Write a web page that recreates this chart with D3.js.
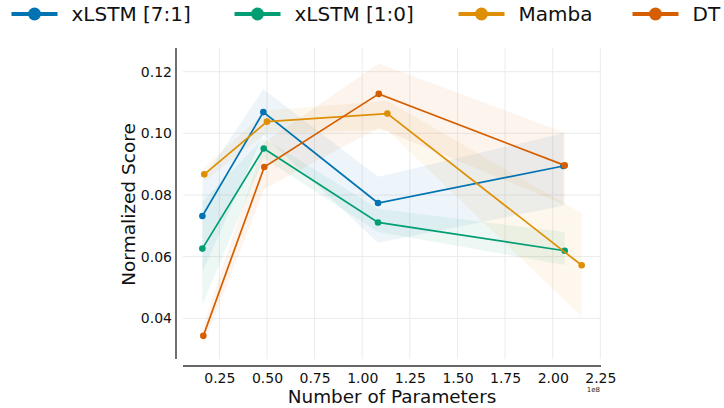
<!DOCTYPE html>
<html>
<head>
<meta charset="utf-8">
<script src="https://cdn.jsdelivr.net/npm/d3@7"></script>
<style>
  html, body { margin: 0; padding: 0; background: #fff; }
  svg { display: block; font-family: "DejaVu Sans", sans-serif; }
</style>
</head>
<body>
<svg id="chart" width="724" height="408"></svg>
<script>
// Model labels, in legend order
const seriesNames = ["xLSTM [7:1]", "xLSTM [1:0]", "Mamba", "DT"];
const seriesColors = ["#0173b2", "#029e73", "#de8f05", "#d55e00"];

// Parameter counts per model size
const paramsXlstm71 = [16.1e6, 48.1e6, 108.3e6, 205.6e6];
const paramsXlstm10 = [16.1e6, 48.3e6, 108.3e6, 206.3e6];
const paramsMamba   = [17.1e6, 50.0e6, 113.2e6, 215.2e6];
const paramsDT      = [16.6e6, 48.6e6, 108.7e6, 206.3e6];

// Mean normalized score per size
const scoreXlstm71 = [0.0732, 0.1069, 0.0774, 0.0894];
const scoreXlstm10 = [0.0626, 0.0951, 0.0711, 0.0619];
const scoreMamba   = [0.0867, 0.1038, 0.1064, 0.0572];
const scoreDT      = [0.0343, 0.0891, 0.1128, 0.0896];

// Confidence interval bounds
const lowXlstm71  = [0.0550, 0.0995, 0.0645, 0.0765];
const highXlstm71 = [0.0849, 0.1143, 0.0859, 0.1000];
const lowXlstm10  = [0.0443, 0.0920, 0.0680, 0.0573];
const highXlstm10 = [0.0780, 0.0985, 0.0755, 0.0680];
const lowMamba    = [0.0845, 0.1003, 0.1010, 0.0405];
const highMamba   = [0.0890, 0.1075, 0.1105, 0.0741];
const lowDT       = [0.0313, 0.0820, 0.1017, 0.0768];
const highDT      = [0.0375, 0.0970, 0.1227, 0.1002];

// Axis ticks
const xTicks = [0.25e8, 0.50e8, 0.75e8, 1.00e8, 1.25e8, 1.50e8, 1.75e8, 2.00e8, 2.25e8];
const yTicks = [0.04, 0.06, 0.08, 0.10, 0.12];

const seriesParams = [paramsXlstm71, paramsXlstm10, paramsMamba, paramsDT];
const seriesScores = [scoreXlstm71, scoreXlstm10, scoreMamba, scoreDT];
const seriesLow = [lowXlstm71, lowXlstm10, lowMamba, lowDT];
const seriesHigh = [highXlstm71, highXlstm10, highMamba, highDT];

const series = seriesNames.map((name, i) => ({
  name,
  color: seriesColors[i],
  points: seriesParams[i].map((p, j) => ({
    x: p, y: seriesScores[i][j], lo: seriesLow[i][j], hi: seriesHigh[i][j]
  }))
}));

const svg = d3.select("#chart");
const plot = { left: 183, right: 601, top: 48, bottom: 359 };

const x = d3.scaleLinear().domain([0.0593e8, 2.2535e8]).range([plot.left, plot.right]);
const y = d3.scaleLinear().domain([0.02679, 0.12769]).range([plot.bottom, plot.top]);

// Grid
const grid = svg.append("g").attr("stroke", "#ebebeb").attr("stroke-width", 1);
grid.selectAll(".vx").data(xTicks).join("line")
  .attr("x1", d => x(d)).attr("x2", d => x(d))
  .attr("y1", plot.top).attr("y2", plot.bottom);
grid.selectAll(".hy").data(yTicks).join("line")
  .attr("x1", plot.left).attr("x2", plot.right)
  .attr("y1", d => y(d)).attr("y2", d => y(d));

// Confidence bands
const area = d3.area().x(d => x(d.x)).y0(d => y(d.lo)).y1(d => y(d.hi));
svg.append("g").selectAll("path").data(series).join("path")
  .attr("d", s => area(s.points))
  .attr("fill", s => s.color)
  .attr("fill-opacity", 0.07)
  .attr("stroke", "none");

// Lines and markers
const line = d3.line().x(d => x(d.x)).y(d => y(d.y));
const sg = svg.append("g").selectAll("g").data(series).join("g");
sg.append("path")
  .attr("d", s => line(s.points))
  .attr("fill", "none")
  .attr("stroke", s => s.color)
  .attr("stroke-width", 1.7);
sg.selectAll("circle").data(s => s.points.map(p => ({ ...p, color: s.color }))).join("circle")
  .attr("cx", d => x(d.x)).attr("cy", d => y(d.y)).attr("r", 3.3)
  .attr("fill", d => d.color);

// Axes (offset spines, no tick marks)
const xAxis = d3.axisBottom(x).tickValues(xTicks).tickSize(0).tickPadding(7)
  .tickFormat(d => (d / 1e8).toFixed(2));
const gx = svg.append("g").attr("transform", "translate(0,366)").call(xAxis);
gx.select(".domain").attr("d", `M${plot.left},0H${plot.right}`).attr("stroke", "#333").attr("stroke-width", 1.5);
gx.selectAll("text").attr("font-size", 14).attr("fill", "#111").attr("font-family", "DejaVu Sans");

const yAxis = d3.axisLeft(y).tickValues(yTicks).tickSize(0).tickPadding(4)
  .tickFormat(d3.format(".2f"));
const gy = svg.append("g").attr("transform", "translate(176,0)").call(yAxis);
gy.select(".domain").attr("d", `M0,${plot.top}V${plot.bottom}`).attr("stroke", "#222").attr("stroke-width", 1.3);
gy.selectAll("text").attr("font-size", 14).attr("fill", "#111").attr("font-family", "DejaVu Sans");

// Scale multiplier, tucked under the last tick label
svg.append("text").attr("x", 600).attr("y", 392).attr("text-anchor", "end")
  .attr("font-size", 7).attr("fill", "#222").text("1e8");

// Axis titles
svg.append("text").attr("x", (plot.left + plot.right) / 2).attr("y", 403)
  .attr("text-anchor", "middle").attr("font-size", 18.4).attr("fill", "#111")
  .text("Number of Parameters");
svg.append("text")
  .attr("transform", `translate(135,${(plot.top + plot.bottom) / 2 + 1}) rotate(-90)`)
  .attr("text-anchor", "middle").attr("font-size", 18.5).attr("fill", "#111")
  .text("Normalized Score");

// Legend
const legendX = [11.5, 234.5, 458.5, 632.5];
const lg = svg.append("g").selectAll("g").data(series).join("g")
  .attr("transform", (d, i) => `translate(${legendX[i]},14)`);
lg.append("line").attr("x1", 0).attr("x2", 46).attr("y1", 0).attr("y2", 0)
  .attr("stroke", d => d.color).attr("stroke-width", 4);
lg.append("circle").attr("cx", 23).attr("cy", 0).attr("r", 6.5).attr("fill", d => d.color);
lg.append("text").attr("x", 60).attr("y", 7).attr("font-size", 20).attr("fill", "#111")
  .text(d => d.name);
</script>
</body>
</html>
